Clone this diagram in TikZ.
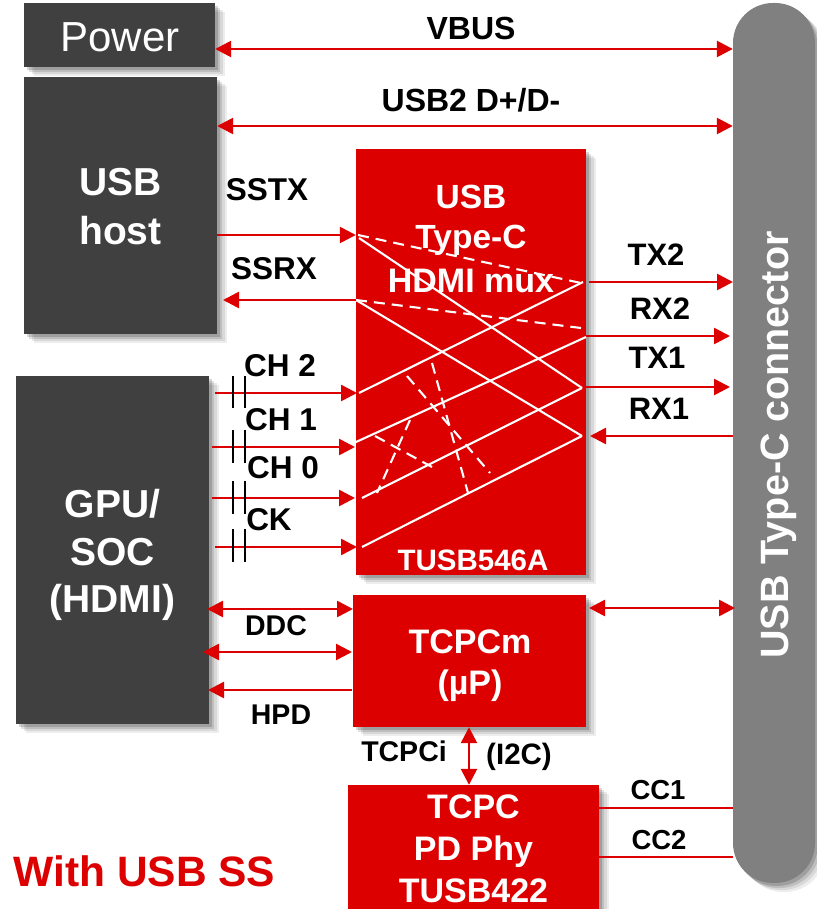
\documentclass[tikz,border=0pt]{standalone}
\usepackage{fontspec}
\setmainfont{Liberation Sans}
\usepackage{xcolor}
\usetikzlibrary{arrows.meta,shadows}
\definecolor{tiRed}{HTML}{DD0000}
\definecolor{darkBox}{HTML}{404040}
\definecolor{connGray}{HTML}{808080}
\newcommand{\fsz}[2]{\fontsize{#1}{#2}\selectfont\bfseries}
\tikzset{
  softshadow/.style={general shadow={fill=black,opacity=.07,shadow xshift=10pt,shadow yshift=-9pt},
    general shadow={fill=black,opacity=.09,shadow xshift=7.5pt,shadow yshift=-7pt},
    general shadow={fill=black,opacity=.12,shadow xshift=5pt,shadow yshift=-5pt},
    general shadow={fill=black,opacity=.16,shadow xshift=2.5pt,shadow yshift=-3pt}},
  box/.style={draw=none,inner sep=0pt,softshadow},
  darkbox/.style={box,fill=darkBox},
  redbox/.style={box,fill=tiRed},
  lbl/.style={inner sep=0pt,text=black,align=center},
  boxtext/.style={lbl,text=white},
  bus/.style={draw=tiRed,line width=2.6pt},
  tip/.style={-{Triangle[length=16pt,width=16pt]}},
  tips/.style={{Triangle[length=16pt,width=16pt]}-{Triangle[length=16pt,width=16pt]}},
  plate/.style={draw=black,line width=2.6pt},
  wire/.style={draw=white,line width=2.1pt},
  dashwire/.style={draw=white,line width=2.1pt,dash pattern=on 11pt off 7pt},
}
\newcommand{\capacitor}[2]{%
  \draw[plate] (233,#1) -- (233,#2);
  \draw[plate] (245,#1) -- (245,#2);
}
\begin{document}
\begin{tikzpicture}[x=1pt,y=-1pt]
  \useasboundingbox (0,0) rectangle (816,909);

  % boxes
  \node[darkbox,minimum width=191pt,minimum height=64pt] (power) at (119.5,35) {};
  \node[darkbox,minimum width=193pt,minimum height=257pt] (host) at (120.5,205.5) {};
  \node[darkbox,minimum width=193pt,minimum height=348pt] (gpu) at (112.5,550) {};
  \node[redbox,minimum width=230pt,minimum height=426pt] (mux) at (471,362) {};
  \node[redbox,minimum width=233pt,minimum height=132pt] (tcpcm) at (469.5,661) {};
  \node[redbox,minimum width=251pt,minimum height=126pt] (tcpc) at (473.5,848) {};
  \node[box,fill=connGray,rounded corners=40pt,minimum width=82pt,minimum height=880pt] (conn) at (774,443) {};

  % box texts
  \node[boxtext,font=\fontsize{42}{50}\selectfont] (powerlabel) at (120,37) {Power};
  \node[boxtext,font=\fsz{39}{49}] (hostlabel) at (120.5,207) {USB\\host};
  \node[boxtext,font=\fsz{39}{47.5}] (gpulabel) at (112.5,555) {GPU/\\SOC\\(HDMI)};
  \node[boxtext,font=\fsz{34}{41}] (tcpcmlabel) at (470,666) {TCPCm\\(µP)};
  \node[boxtext,font=\fsz{34}{42}] (tcpclabel) at (473.5,849) {TCPC\\PD Phy\\TUSB422};
  \node[boxtext,rotate=90,font=\fsz{39.5}{47}] (connlabel) at (779,445) {USB Type-C connector};

  % crossings inside the mux
  \draw[dashwire] (358,235) -- (581,283);
  \draw[dashwire] (356,300) -- (581,328);
  \draw[wire] (359,238) -- (582,388);
  \draw[wire] (356,300) -- (582,436);
  \draw[wire] (359,393) -- (583,282);
  \draw[wire] (356,442) -- (586,337);
  \draw[wire] (362,498) -- (582,388);
  \draw[wire] (362,547) -- (582,436);
  \draw[dashwire] (407,376) -- (490,473);
  \draw[dashwire] (432,363) -- (468,493);
  \draw[dashwire] (375,436) -- (432,467);
  \draw[dashwire] (410,420) -- (377,493);

  % mux texts
  \node[boxtext,font=\fsz{33.5}{40}] (muxa) at (471,197) {USB};
  \node[boxtext,font=\fsz{33.5}{40}] (muxb) at (471,240) {Type-C};
  \node[boxtext,font=\fsz{34}{40}] (muxc) at (471,281) {HDMI mux};
  \node[boxtext,font=\fsz{29.5}{36}] (muxd) at (473,560) {TUSB546A};

  % port positions
  \coordinate (vbusL) at (power.east |- 0,49);
  \coordinate (vbusR) at (conn.west |- 0,49);
  \coordinate (usbL) at (host.east |- 0,126);
  \coordinate (usbR) at (conn.west |- 0,126);
  \coordinate (sstxL) at (host.east |- 0,235);
  \coordinate (sstxR) at (mux.west |- 0,235);
  \coordinate (ssrxL) at (223,300);
  \coordinate (ssrxR) at (mux.west |- 0,300);
  \coordinate (chtwoL) at (215,393);
  \coordinate (chtwoR) at (357,393);
  \coordinate (choneL) at (212,447);
  \coordinate (choneR) at (355,447);
  \coordinate (chzeroL) at (212,498);
  \coordinate (chzeroR) at (355,498);
  \coordinate (ckL) at (215,547);
  \coordinate (ckR) at (357,547);
  \coordinate (txtwoL) at (589,282);
  \coordinate (txtwoR) at (733,282);
  \coordinate (rxtwoL) at (586,336);
  \coordinate (rxtwoR) at (730,336);
  \coordinate (txoneL) at (586,387);
  \coordinate (txoneR) at (730,387);
  \coordinate (rxoneL) at (590,436);
  \coordinate (rxoneR) at (733,436);
  \coordinate (ddcL) at (207,609);
  \coordinate (ddcR) at (353,609);
  \coordinate (auxL) at (203,652);
  \coordinate (auxR) at (352,652);
  \coordinate (hpdL) at (208,690);
  \coordinate (hpdR) at (352,690);
  \coordinate (sbuL) at (589,608);
  \coordinate (sbuR) at (735,608);

  % connectors
  \draw[bus,tips] (vbusL) -- (vbusR);
  \draw[bus,tips] (usbL) -- (usbR);
  \draw[bus,tip] (sstxL) -- (sstxR);
  \draw[bus,tip] (ssrxR) -- (ssrxL);
  \draw[bus,tip] (chtwoL) -- (chtwoR);
  \draw[bus,tip] (choneL) -- (choneR);
  \draw[bus,tip] (chzeroL) -- (chzeroR);
  \draw[bus,tip] (ckL) -- (ckR);
  \draw[bus,tip] (txtwoL) -- (txtwoR);
  \draw[bus,tip] (rxtwoL) -- (rxtwoR);
  \draw[bus,tip] (txoneL) -- (txoneR);
  \draw[bus,tip] (rxoneR) -- (rxoneL);
  \draw[bus,tips] (ddcL) -- (ddcR);
  \draw[bus,tips] (auxL) -- (auxR);
  \draw[bus,tip] (hpdR) -- (hpdL);
  \draw[bus,tips] (sbuL) -- (sbuR);
  \draw[bus,tips] (tcpcm.south -| 469,0) -- (tcpc.north -| 469,0);
  \draw[bus] (tcpc.east |- 0,808) -- (conn.west |- 0,808);
  \draw[bus] (tcpc.east |- 0,857) -- (conn.west |- 0,857);

  % coupling capacitors
  \capacitor{376}{408}
  \capacitor{430}{463}
  \capacitor{481}{514}
  \capacitor{529}{562}

  % labels
  \node[lbl,font=\fsz{32}{38}] (vbus) at (471,28) {VBUS};
  \node[lbl,font=\fsz{32}{38}] (usbtwo) at (471,100) {USB2 D+/D-};
  \node[lbl,font=\fsz{31.5}{37}] (sstx) at (267,190) {SSTX};
  \node[lbl,font=\fsz{31.5}{37}] (ssrx) at (274,269) {SSRX};
  \node[lbl,font=\fsz{31.5}{37}] (chtwo) at (280,366) {CH 2};
  \node[lbl,font=\fsz{31.5}{37}] (chone) at (281,420) {CH 1};
  \node[lbl,font=\fsz{31.5}{37}] (chzero) at (283,468) {CH 0};
  \node[lbl,font=\fsz{31.5}{37}] (ck) at (269,520) {CK};
  \node[lbl,font=\fsz{31}{37}] (txtwo) at (656,255) {TX2};
  \node[lbl,font=\fsz{31}{37}] (rxtwo) at (660,309) {RX2};
  \node[lbl,font=\fsz{31}{37}] (txone) at (657,358) {TX1};
  \node[lbl,font=\fsz{31}{37}] (rxone) at (659,409) {RX1};
  \node[lbl,font=\fsz{28.5}{34}] (ddc) at (276,626) {DDC};
  \node[lbl,font=\fsz{28.5}{34}] (hpd) at (281,715) {HPD};
  \node[lbl,font=\fsz{28.5}{34}] (tcpci) at (404,751) {TCPCi};
  \node[lbl,font=\fsz{29.5}{35}] (itwoc) at (519,757) {(I2C)};
  \node[lbl,font=\fsz{27.5}{33}] (ccone) at (658,790) {CC1};
  \node[lbl,font=\fsz{27.5}{33}] (cctwo) at (659,840) {CC2};
  \node[lbl,text=tiRed,font=\fsz{42.5}{50}] (title) at (144.5,871) {With USB SS};
\end{tikzpicture}
\end{document}
